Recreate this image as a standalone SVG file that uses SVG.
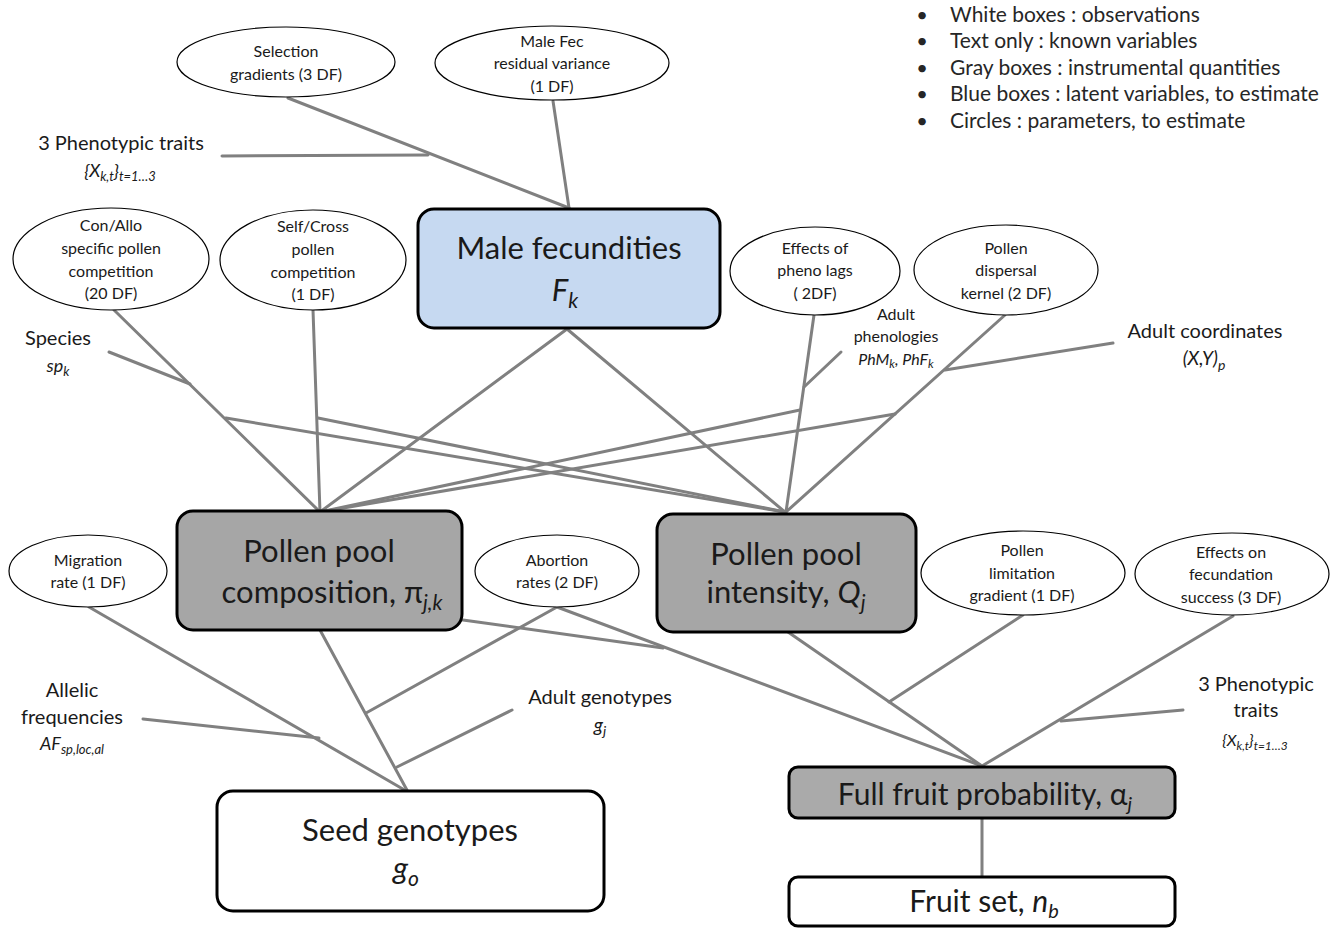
<svg xmlns="http://www.w3.org/2000/svg" width="1335" height="930" viewBox="0 0 1335 930">
<style>
text{font-family:Lato,"Open Sans","Liberation Sans",sans-serif;fill:#1a1a1a;text-anchor:middle}
.conn line{stroke:#808080;stroke-width:3;stroke-linecap:round}
.ell{fill:#fff;stroke:#000;stroke-width:1.2}
.box{stroke:#000;stroke-width:3}
.white{fill:#fff}.gray{fill:#a6a6a6}.blue{fill:#c6d9f1}.lgray{fill:#aaaaaa}
.es{font-size:16px}
.lab{font-size:20px}
.big{font-size:31px}
.mid{font-size:30px}
.it{font-style:italic}
.leg{font-size:21px;text-anchor:start;fill:#262626}
.bul{font-size:20px;fill:#262626}
</style>
<g id="connectors" class="conn">
<line x1="288" y1="98" x2="569" y2="208"/>
<line x1="222" y1="156" x2="428" y2="155"/>
<line x1="553" y1="101" x2="569" y2="208"/>
<line x1="114" y1="310" x2="320" y2="512"/>
<line x1="109" y1="352" x2="190" y2="384"/>
<line x1="226" y1="418" x2="785" y2="512"/>
<line x1="318" y1="418" x2="785" y2="512"/>
<line x1="313" y1="310" x2="320" y2="512"/>
<line x1="567" y1="329" x2="320" y2="512"/>
<line x1="567" y1="329" x2="785" y2="512"/>
<line x1="814" y1="315" x2="786" y2="512"/>
<line x1="841" y1="352" x2="804" y2="387"/>
<line x1="800" y1="410" x2="320" y2="512"/>
<line x1="1005" y1="315" x2="786" y2="512"/>
<line x1="1113" y1="343" x2="945" y2="370"/>
<line x1="895" y1="414" x2="320" y2="512"/>
<line x1="89" y1="607" x2="408" y2="792"/>
<line x1="143" y1="719" x2="319" y2="738"/>
<line x1="320" y1="630" x2="408" y2="792"/>
<line x1="557" y1="607" x2="366" y2="713"/>
<line x1="512" y1="710" x2="397" y2="767"/>
<line x1="463" y1="620" x2="663" y2="648"/>
<line x1="557" y1="607" x2="982" y2="766"/>
<line x1="788" y1="632" x2="982" y2="766"/>
<line x1="1023" y1="615" x2="889" y2="702"/>
<line x1="1233" y1="616" x2="982" y2="766"/>
<line x1="1183" y1="710" x2="1061" y2="721"/>
<line x1="982" y1="818" x2="982" y2="877"/>
</g>
<g id="legend">
<text class="bul" x="922" y="22">•</text><text class="leg" x="950" y="22">White boxes : observations</text>
<text class="bul" x="922" y="48">•</text><text class="leg" x="950" y="48">Text only : known variables</text>
<text class="bul" x="922" y="75">•</text><text class="leg" x="950" y="75">Gray boxes : instrumental quantities</text>
<text class="bul" x="922" y="101">•</text><text class="leg" x="950" y="101">Blue boxes : latent variables, to estimate</text>
<text class="bul" x="922" y="128">•</text><text class="leg" x="950" y="128">Circles : parameters, to estimate</text>
</g>
<g id="selection-gradients">
<ellipse class="ell" cx="286" cy="62" rx="109" ry="35"/>
<text class="es" x="286" y="57">Selection</text>
<text class="es" x="286" y="80">gradients (3 DF)</text>
</g>
<g id="male-fec-residual">
<ellipse class="ell" cx="552" cy="63" rx="117" ry="37"/>
<text class="es" x="552" y="47">Male Fec</text>
<text class="es" x="552" y="69">residual variance</text>
<text class="es" x="552" y="92">(1 DF)</text>
</g>
<g id="phenotypic-traits-top">
<text class="lab" x="121" y="150">3 Phenotypic traits</text>
<text class="it" x="120" y="177" font-size="18">{X<tspan font-size="13" dy="4">k,t</tspan><tspan dy="-4">}</tspan><tspan font-size="13" dy="4">t=1…3</tspan></text>
</g>
<g id="male-fecundities">
<rect class="box blue" x="418" y="209" width="302" height="119" rx="16"/>
<text class="big" x="569" y="259">Male fecundities</text>
<text class="big it" x="565" y="301">F<tspan font-size="21" dy="7">k</tspan></text>
</g>
<g id="con-allo">
<ellipse class="ell" cx="111" cy="259" rx="98" ry="51"/>
<text class="es" x="111" y="231">Con/Allo</text>
<text class="es" x="111" y="254">specific pollen</text>
<text class="es" x="111" y="277">competition</text>
<text class="es" x="111" y="299">(20 DF)</text>
</g>
<g id="self-cross">
<ellipse class="ell" cx="313" cy="260" rx="93" ry="50"/>
<text class="es" x="313" y="232">Self/Cross</text>
<text class="es" x="313" y="255">pollen</text>
<text class="es" x="313" y="278">competition</text>
<text class="es" x="313" y="300">(1 DF)</text>
</g>
<g id="pheno-lags">
<ellipse class="ell" cx="815" cy="271" rx="85" ry="44"/>
<text class="es" x="815" y="254">Effects of</text>
<text class="es" x="815" y="276">pheno lags</text>
<text class="es" x="815" y="299">( 2DF)</text>
</g>
<g id="pollen-dispersal">
<ellipse class="ell" cx="1006" cy="270" rx="92" ry="45"/>
<text class="es" x="1006" y="254">Pollen</text>
<text class="es" x="1006" y="276">dispersal</text>
<text class="es" x="1006" y="299">kernel (2 DF)</text>
</g>
<g id="species">
<text class="lab" x="58" y="345">Species</text>
<text class="it" x="58" y="372" font-size="18">sp<tspan font-size="13" dy="4">k</tspan></text>
</g>
<g id="adult-phenologies">
<text class="es" x="896" y="320">Adult</text>
<text class="es" x="896" y="342">phenologies</text>
<text class="it" x="896" y="365" font-size="16">PhM<tspan font-size="12" dy="3">k</tspan><tspan dy="-3">, PhF</tspan><tspan font-size="12" dy="3">k</tspan></text>
</g>
<g id="adult-coordinates">
<text class="lab" x="1205" y="338">Adult coordinates</text>
<text class="it" x="1204" y="365" font-size="19">(X,Y)<tspan font-size="14" dy="5">p</tspan></text>
</g>
<g id="pollen-pool-composition">
<rect class="box gray" x="177" y="511" width="285" height="119" rx="16"/>
<text class="big" x="319" y="562">Pollen pool</text>
<text class="big" x="332" y="603">composition, π<tspan class="it" font-size="21" dy="7">j,k</tspan></text>
</g>
<g id="pollen-pool-intensity">
<rect class="box gray" x="657" y="514" width="259" height="118" rx="16"/>
<text class="big" x="786" y="565">Pollen pool</text>
<text class="big" x="786" y="603">intensity, <tspan class="it">Q</tspan><tspan class="it" font-size="21" dy="7">j</tspan></text>
</g>
<g id="migration-rate">
<ellipse class="ell" cx="88" cy="571" rx="79" ry="36"/>
<text class="es" x="88" y="566">Migration</text>
<text class="es" x="88" y="588">rate (1 DF)</text>
</g>
<g id="abortion-rates">
<ellipse class="ell" cx="557" cy="571" rx="82" ry="36"/>
<text class="es" x="557" y="566">Abortion</text>
<text class="es" x="557" y="588">rates (2 DF)</text>
</g>
<g id="pollen-limitation">
<ellipse class="ell" cx="1023" cy="573" rx="102" ry="42"/>
<text class="es" x="1022" y="556">Pollen</text>
<text class="es" x="1022" y="579">limitation</text>
<text class="es" x="1022" y="601">gradient (1 DF)</text>
</g>
<g id="fecundation-success">
<ellipse class="ell" cx="1232" cy="574" rx="97" ry="41"/>
<text class="es" x="1231" y="558">Effects on</text>
<text class="es" x="1231" y="580">fecundation</text>
<text class="es" x="1231" y="603">success (3 DF)</text>
</g>
<g id="allelic-frequencies">
<text class="lab" x="72" y="697">Allelic</text>
<text class="lab" x="72" y="724">frequencies</text>
<text class="it" x="72" y="750" font-size="18">AF<tspan font-size="13" dy="4">sp,loc,al</tspan></text>
</g>
<g id="adult-genotypes">
<text class="lab" x="600" y="704">Adult genotypes</text>
<text class="it" x="600" y="732" font-size="19">g<tspan font-size="14" dy="4">j</tspan></text>
</g>
<g id="phenotypic-traits-bottom">
<text class="lab" x="1256" y="691">3 Phenotypic</text>
<text class="lab" x="1256" y="717">traits</text>
<text class="it" x="1255" y="746" font-size="16">{X<tspan font-size="12" dy="4">k,t</tspan><tspan dy="-4">}</tspan><tspan font-size="12" dy="4">t=1…3</tspan></text>
</g>
<g id="seed-genotypes">
<rect class="box white" x="217" y="791" width="387" height="120" rx="16"/>
<text class="big" x="410" y="841">Seed genotypes</text>
<text class="big it" x="406" y="879">g<tspan font-size="21" dy="7">o</tspan></text>
</g>
<g id="full-fruit-probability">
<rect class="box lgray" x="789" y="767" width="386" height="51" rx="9"/>
<text class="mid" x="985" y="805">Full fruit probability, α<tspan class="it" font-size="20" dy="6">j</tspan></text>
</g>
<g id="fruit-set">
<rect class="box white" x="789" y="877" width="386" height="49" rx="9"/>
<text class="mid" x="984" y="912">Fruit set, <tspan class="it">n</tspan><tspan class="it" font-size="20" dy="6">b</tspan></text>
</g>
</svg>
